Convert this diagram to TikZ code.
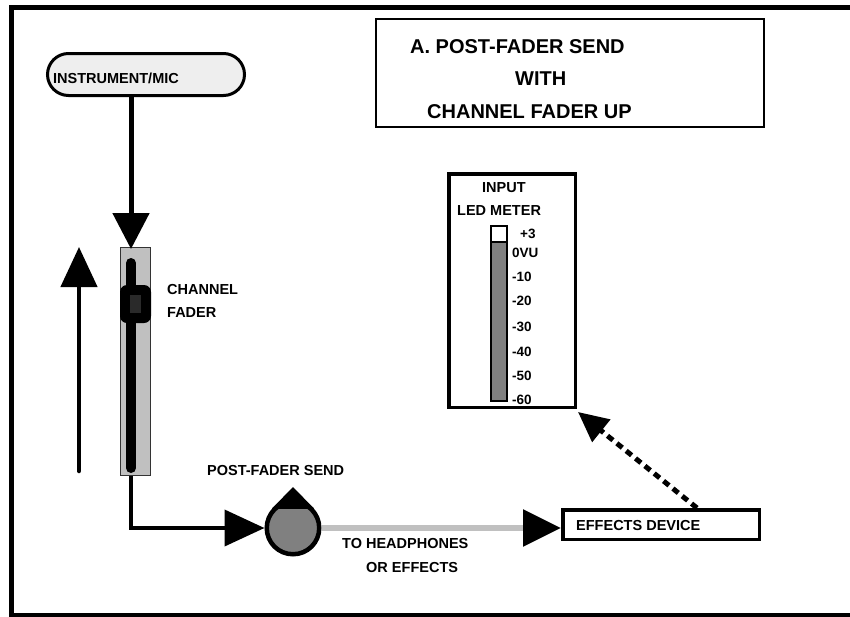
\documentclass[tikz,border=0pt]{standalone}
\usepackage{fontspec}
\setmainfont{Liberation Sans}
\usetikzlibrary{arrows.meta}
\definecolor{boxfill}{HTML}{EEEEEE}
\definecolor{slotgray}{HTML}{C0C0C0}
\definecolor{midgray}{HTML}{808080}
\definecolor{knobdark}{HTML}{2A2A2A}
\begin{document}
\begin{tikzpicture}[x=1pt,y=-1pt,
  font=\bfseries\fontsize{14.5}{16}\selectfont,
  lbl/.style={anchor=base west, inner sep=0pt},
  smalllbl/.style={anchor=base west, inner sep=0pt, font=\bfseries\fontsize{13.5}{15}\selectfont},
  titlelbl/.style={anchor=base west, inner sep=0pt, font=\bfseries\fontsize{20}{22}\selectfont},
  bigtip/.style={-{Triangle[length=36pt,width=36pt]}},
  frame/.style={draw, line width=3.5pt, inner sep=0pt}]
\useasboundingbox (0,0) rectangle (850,616);

% outer frame
\draw[line width=5pt] (11,7) rectangle (858,615);

% title box
\node[draw, line width=1.8pt, minimum width=388pt, minimum height=108pt, inner sep=0pt] (title) at (570,73) {};
\node[titlelbl] (t1) at (410,53) {A. POST-FADER SEND};
\node[titlelbl] (t2) at (515,85) {WITH};
\node[titlelbl] (t3) at (427,118) {CHANNEL FADER UP};

% instrument / mic
\node[draw, line width=3pt, fill=boxfill, rounded corners=21pt, minimum width=197pt, minimum height=42pt, inner sep=0pt] (inst) at (146,74.5) {};
\node[lbl] (instlbl) at (53,83) {INSTRUMENT/MIC};

% fader slot
\node[draw=black!80, fill=slotgray, line width=1.2pt, minimum width=30pt, minimum height=228pt, inner sep=0pt] (fader) at (135.5,361.5) {};
\draw[line width=10pt, line cap=round] (131,263) -- (131,468);
\fill[rounded corners=7pt] (120,285) rectangle (151,323);
\fill[knobdark] (130,295) rectangle (141,313);
\node[lbl] (ch1) at (167,294) {CHANNEL};
\node[lbl] (ch2) at (167,317) {FADER};

\coordinate (ftop) at (131,249);
\coordinate (fbot) at (131,476);
\draw[line width=5pt, bigtip] (inst.south -| ftop) -- (ftop);

% up arrow
\coordinate (upbot) at (79,471);
\coordinate (uptop) at (79,247);
\draw[line width=4.5pt, line cap=round, -{Triangle[length=40pt,width=36pt]}] (upbot) -- (uptop);

% post-fader send knob
\node[circle, draw, line width=4.5pt, fill=midgray, minimum size=52.5pt, inner sep=0pt] (knob) at (293,528) {};
\begin{scope}
  \clip (250,470) rectangle (340,508);
  \fill (293,528) circle (28.5);
\end{scope}
\fill (293,487) -- (272,508.5) -- (314,508.5) -- cycle;
\node[lbl] (pfs) at (207,475) {POST-FADER SEND};

\draw[line width=4pt, -{Triangle[length=40pt,width=36pt]}] (fbot) |- (knob.west);

% effects device
\node[frame, minimum width=196.5pt, minimum height=29.5pt] (fx) at (661,524.5) {};
\node[lbl] (fxlbl) at (576,530) {EFFECTS DEVICE};

\draw[line width=6pt, slotgray, -{Triangle[length=38pt,width=36pt,color=black]}] (knob.east) -- (knob.east -| fx.west);
\node[lbl] (th1) at (342,548) {TO HEADPHONES};
\node[lbl] (th2) at (366,572) {OR EFFECTS};

% LED meter
\node[frame, minimum width=126.5pt, minimum height=233.5pt] (meter) at (512,290.5) {};
\node[lbl] (in1) at (482,192) {INPUT};
\node[lbl] (in2) at (457,215) {LED METER};
\draw[line width=1.3pt, fill=white] (491,226) rectangle (507,242);
\draw[line width=1.3pt, fill=midgray] (491,242) rectangle (507,401);
\node[smalllbl] at (520,238) {+3};
\node[smalllbl] at (512,257) {0VU};
\node[smalllbl] at (512,281) {-10};
\node[smalllbl] at (512,305) {-20};
\node[smalllbl] at (512,331) {-30};
\node[smalllbl] at (512,356) {-40};
\node[smalllbl] at (512,380) {-50};
\node[smalllbl] at (512,404) {-60};

% dashed arrow
\coordinate (dstart) at (697,0);
\coordinate (dtip) at (578,412);
\draw[line width=5pt, dash pattern=on 7pt off 5pt, -{Triangle[length=30pt,width=28pt]}] (fx.north -| dstart) -- (dtip);
\end{tikzpicture}
\end{document}
